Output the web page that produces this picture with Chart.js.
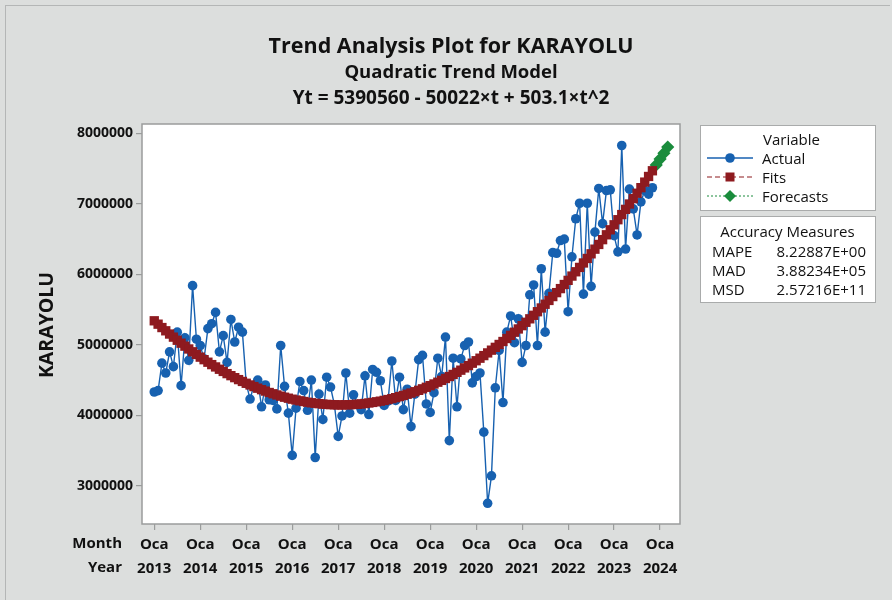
<!DOCTYPE html>
<html>
<head>
<meta charset="utf-8">
<script src="https://cdn.jsdelivr.net/npm/chart.js@4.4.1/dist/chart.umd.min.js"></script>
<style>
  html, body { margin:0; padding:0; background:#dcdedd; }
  #wrap { position:relative; width:892px; height:600px; background:#dcdedd; font-family:"Open Sans","Noto Sans",sans-serif; color:#111; overflow:hidden; }
  #frame { position:absolute; left:5px; top:5px; width:885px; height:600px; border-left:1px solid #b4b6b6; border-top:1px solid #b4b6b6; box-sizing:border-box; pointer-events:none; }
  canvas { position:absolute; left:0; top:0; }
  .t { position:absolute; left:0; width:902px; text-align:center; font-weight:bold; white-space:nowrap; }
  .lbl { position:absolute; font-weight:bold; font-size:15px; white-space:nowrap; }
  .box { position:absolute; background:#fff; border:1.5px solid #a9abab; box-sizing:border-box; font-size:15px; }
  .box div { position:absolute; white-space:nowrap; }
</style>
</head>
<body>
<div id="wrap">
  <canvas id="c" width="892" height="600"></canvas>
  <div id="frame"></div>
  <div class="t" style="top:30px;font-size:21.5px;">Trend Analysis Plot for KARAYOLU</div>
  <div class="t" style="top:58px;font-size:18.5px;">Quadratic Trend Model</div>
  <div class="t" style="top:84px;font-size:19px;">Yt = 5390560 - 50022×t + 503.1×t^2</div>
  <div class="lbl" style="left:-15px;top:325px;font-size:19.5px;transform:translate(0,-50%) rotate(-90deg);transform-origin:center;width:120px;text-align:center;">KARAYOLU</div>
  <div class="lbl" style="right:770px;top:532px;">Month</div>
  <div class="lbl" style="right:770px;top:556px;">Year</div>

  <div class="box" style="left:700px;top:125px;width:176px;height:86px;">
    <div style="left:62px;top:3px;">Variable</div>
    <svg style="position:absolute;left:4px;top:22px;" width="52" height="60">
      <line x1="2" y1="10" x2="48" y2="10" stroke="#1761b0" stroke-width="1.5"/>
      <circle cx="25" cy="10" r="4.8" fill="#1761b0"/>
      <line x1="2" y1="29" x2="48" y2="29" stroke="#8e1a1f" stroke-width="1.2" stroke-dasharray="5,3"/>
      <rect x="20.5" y="24.5" width="9" height="9" fill="#8e1a1f"/>
      <line x1="2" y1="48" x2="48" y2="48" stroke="#1a8c3c" stroke-width="1.2" stroke-dasharray="2,2"/>
      <polygon points="25,42 31,48 25,54 19,48" fill="#1a8c3c"/>
    </svg>
    <div style="left:61px;top:22px;">Actual</div>
    <div style="left:61px;top:41px;">Fits</div>
    <div style="left:61px;top:60px;">Forecasts</div>
  </div>

  <div class="box" style="left:700px;top:216px;width:176px;height:87px;">
    <div style="left:0;width:173px;text-align:center;top:4px;">Accuracy Measures</div>
    <div style="left:11px;top:24px;">MAPE</div>
    <div style="right:9px;top:24px;">8.22887E+00</div>
    <div style="left:11px;top:43px;">MAD</div>
    <div style="right:9px;top:43px;">3.88234E+05</div>
    <div style="left:11px;top:62px;">MSD</div>
    <div style="right:9px;top:62px;">2.57216E+11</div>
  </div>
</div>
<script>
// Monthly actual values (millions), Jan 2013 .. Nov 2023
const actual = [
  4.33,4.35,4.74,4.60,4.90,4.69,5.18,4.42,5.10,4.78,5.84,5.08,
  4.99,4.80,5.23,5.30,5.46,4.90,5.13,4.75,5.36,5.04,5.25,5.18,
  4.45,4.23,4.42,4.50,4.12,4.43,4.22,4.21,4.09,4.99,4.41,4.03,
  3.43,4.10,4.48,4.35,4.07,4.50,3.40,4.30,3.94,4.54,4.40,4.15,
  3.70,3.99,4.60,4.03,4.29,4.15,4.08,4.56,4.01,4.65,4.61,4.49,
  4.14,4.20,4.77,4.21,4.54,4.08,4.37,3.84,4.30,4.79,4.85,4.16,
  4.04,4.32,4.81,4.55,5.11,3.64,4.81,4.12,4.80,4.99,5.04,4.46,
  4.55,4.60,3.76,2.75,3.14,4.39,4.92,4.18,5.18,5.41,5.03,5.37,
  4.75,4.99,5.71,5.85,4.99,6.08,5.18,5.73,6.31,6.30,6.48,6.50,
  5.47,6.25,6.79,7.01,5.72,7.01,5.83,6.60,7.22,6.72,7.19,7.20,
  6.55,6.32,7.83,6.36,7.21,6.93,6.56,7.03,7.19,7.14,7.23
];
// Fitted trend values (thousands), t = 1..131
const fits = [
  5341,5293,5245,5199,5153,5109,5065,5023,4981,4941,4901,4863,
  4825,4789,4753,4719,4686,4653,4622,4591,4562,4534,4506,4480,
  4454,4430,4407,4384,4363,4343,4323,4305,4288,4271,4256,4242,
  4228,4216,4205,4195,4185,4177,4170,4164,4158,4154,4151,4149,
  4147,4147,4148,4150,4153,4156,4161,4167,4174,4182,4191,4200,
  4211,4223,4236,4250,4265,4281,4298,4315,4334,4354,4375,4397,
  4420,4444,4469,4495,4522,4550,4579,4609,4640,4672,4705,4739,
  4774,4810,4847,4885,4924,4964,5005,5047,5090,5134,5179,5225,
  5272,5320,5369,5419,5470,5523,5576,5630,5685,5741,5798,5856,
  5915,5976,6037,6099,6162,6226,6292,6358,6425,6493,6562,6633,
  6704,6776,6849,6923,6999,7075,7152,7231,7310,7390,7471
];
// Forecasts (thousands), t = 132..135
const forecasts = [7554,7637,7721,7807];
const forecastStart = 132;

const monthLabel = "Oca";
const years = ["2013","2014","2015","2016","2017","2018","2019","2020","2021","2022","2023","2024"];
const yTicks = [3000000,4000000,5000000,6000000,7000000,8000000];

const xTickVals = years.map((y,i) => 1 + 12*i);

const actualPts = actual.map((v,i) => ({x:i+1, y:v*1e6}));
const fitPts = fits.map((v,i) => ({x:i+1, y:v*1e3}));
const fcPts = forecasts.map((v,i) => ({x:forecastStart+i, y:v*1e3}));

const frame = {
  id:'frame',
  beforeDatasetsDraw(chart){
    const {ctx, chartArea:a} = chart;
    ctx.save();
    ctx.fillStyle = '#fff';
    ctx.fillRect(a.left, a.top, a.right-a.left, a.bottom-a.top);
    ctx.restore();
  },
  afterDatasetsDraw(chart){
    const {ctx, chartArea:a} = chart;
    ctx.save();
    ctx.strokeStyle = '#9a9c9c';
    ctx.lineWidth = 1.5;
    ctx.strokeRect(a.left, a.top, a.right-a.left, a.bottom-a.top);
    ctx.restore();
  }
};

new Chart(document.getElementById('c'), {
  type:'line',
  data:{
    datasets:[
      {label:'Actual', data:actualPts, borderColor:'#1761b0', backgroundColor:'#1761b0',
       borderWidth:1.4, pointRadius:4.8, pointBorderWidth:0, pointStyle:'circle', order:2, tension:0},
      {label:'Fits', data:fitPts, borderColor:'#8e1a1f', backgroundColor:'#8e1a1f',
       borderWidth:1, borderDash:[5,3], pointRadius:6.6, pointBorderWidth:0, pointStyle:'rect', order:0},
      {label:'Forecasts', data:fcPts, borderColor:'#1a8c3c', backgroundColor:'#1a8c3c',
       borderWidth:1, borderDash:[2,2], pointRadius:6.6, pointBorderWidth:0, pointStyle:'rectRot', order:1}
    ]
  },
  options:{
    responsive:false, animation:false, devicePixelRatio:1,
    layout:{padding:{left:0, right:212, top:124, bottom:0}},
    plugins:{legend:{display:false}, tooltip:{enabled:false}, title:{display:false}},
    scales:{
      x:{
        type:'linear', min:-2.2, max:138.2,
        afterFit(s){ s.height = 76; },
        afterBuildTicks(s){ s.ticks = xTickVals.map(v => ({value:v})); },
        ticks:{
          autoSkip:false, maxRotation:0, padding:3,
          color:'#111',
          font:{family:'"Open Sans","Noto Sans",sans-serif', size:15, weight:'bold', lineHeight:1.6},
          callback(v){ const i = xTickVals.indexOf(v); return i>=0 ? [monthLabel, years[i]] : ''; }
        },
        grid:{drawOnChartArea:false, drawTicks:true, tickLength:6, color:'#9a9c9c', lineWidth:1.2},
        border:{display:false}
      },
      y:{
        min:2456000, max:8135000,
        afterFit(s){ s.width = 142; },
        afterBuildTicks(s){ s.ticks = yTicks.map(v => ({value:v})); },
        ticks:{
          padding:3, color:'#111',
          font:{family:'"Open Sans","Noto Sans",sans-serif', size:14, weight:'bold'},
          callback(v){ return String(v); }
        },
        grid:{drawOnChartArea:false, drawTicks:true, tickLength:6, color:'#9a9c9c', lineWidth:1.2},
        border:{display:false}
      }
    }
  },
  plugins:[frame]
});
</script>
</body>
</html>
